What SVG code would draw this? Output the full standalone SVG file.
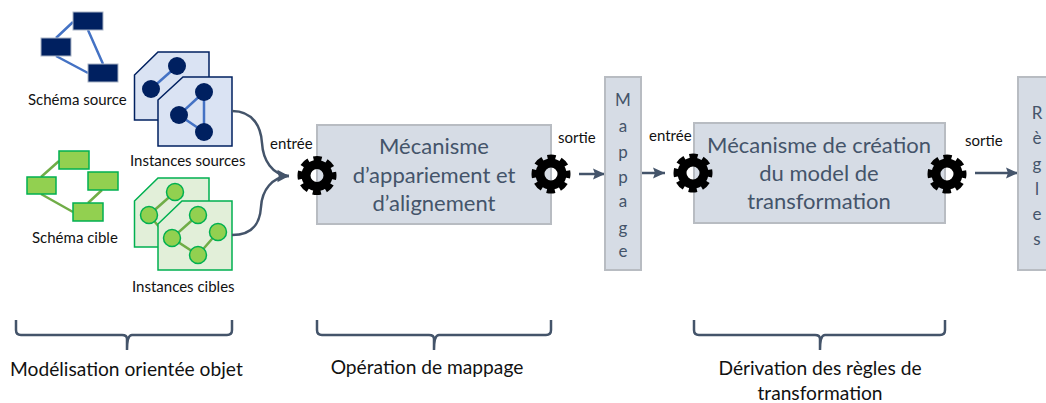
<svg xmlns="http://www.w3.org/2000/svg" width="1046" height="403" viewBox="0 0 1046 403">
<style>
text{font-family:"Lato","Open Sans","Liberation Sans",sans-serif;fill:#111}
.lb{font-size:15px}
.cap{font-size:19.2px}
.big{font-size:22px;fill:#44546a;text-anchor:middle}
.let{font-size:17px;fill:#44546a;text-anchor:middle}
.box{fill:#d6dce5;stroke:#b8bcc2;stroke-width:2}
.conn{fill:none;stroke:#44546a;stroke-width:2.5}
.brace{fill:none;stroke:#44546a;stroke-width:2.5}
.sl{stroke:#4472c4;stroke-width:2.5;fill:none}
.sr{fill:#002060;stroke:#a9b4c6;stroke-width:1}
.sd{fill:#dae3f3;stroke:#002060;stroke-width:1.5}
.sc{fill:#002060}
.gl{stroke:#70ad47;stroke-width:2.5;fill:none}
.gr{fill:#92d050;stroke:#00b050;stroke-width:1.5}
.gd{fill:#e2efd9;stroke:#00b050;stroke-width:1.5}
.gc{fill:#92d050;stroke:#00b050;stroke-width:1.5}
</style>
<defs>
<marker id="ah" markerUnits="userSpaceOnUse" markerWidth="14" markerHeight="14" refX="12" refY="7" orient="auto"><path d="M0 1.500L12 7L0 12.500L2 7Z" fill="#44546a"/></marker>
<g id="gear">
<circle r="11" fill="none" stroke="#000" stroke-width="9"/>
<circle r="16.500" fill="none" stroke="#000" stroke-width="6" stroke-dasharray="8 4.960" stroke-dashoffset="4"/>
</g>
</defs>

<g id="schema-source">
<path class="sl" d="M73 22L56 38M88 30L103 64M56 56L88 73"/>
<rect class="sr" x="73" y="12" width="30" height="18"/>
<rect class="sr" x="41" y="38" width="30" height="18"/>
<rect class="sr" x="88" y="64" width="30" height="18"/>
<text class="lb" x="28" y="105">Schéma source</text>
</g>

<g id="instances-sources">
<path class="sd" d="M134.500 75L158 52H209V120H134.500Z"/>
<path class="sl" d="M177 66L151 89"/>
<circle class="sc" cx="177" cy="66" r="9"/><circle class="sc" cx="151" cy="89" r="9"/>
<path class="sd" d="M158 100L183 77H232V146H158Z"/>
<path class="sl" d="M204 92L179 115L204 132Z"/>
<circle class="sc" cx="204" cy="92" r="9"/><circle class="sc" cx="179" cy="115" r="9"/><circle class="sc" cx="204" cy="132" r="9"/>
<text class="lb" x="130" y="166">Instances sources</text>
</g>

<g id="schema-cible">
<path class="gl" d="M59 161L41 177M41 194L73 212M102 190L88 203"/>
<rect class="gr" x="59" y="151" width="30" height="18"/>
<rect class="gr" x="27" y="177" width="29" height="17"/>
<rect class="gr" x="88" y="172" width="30" height="18"/>
<rect class="gr" x="73" y="203" width="30" height="18"/>
<text class="lb" x="32" y="243">Schéma cible</text>
</g>

<g id="instances-cibles">
<path class="gd" d="M134.500 201L158 178H209V247H134.500Z"/>
<path class="gl" d="M175 192L149 215L160 228"/>
<circle class="gc" cx="175" cy="192" r="8.500"/><circle class="gc" cx="149" cy="215" r="8.500"/>
<path class="gd" d="M158 224L182 201H232V270H158Z"/>
<path class="gl" d="M198 215L172 238L198 255L218 232"/>
<circle class="gc" cx="198" cy="215" r="8.500"/><circle class="gc" cx="172" cy="238" r="8.500"/><circle class="gc" cx="218" cy="232" r="8.500"/><circle class="gc" cx="198" cy="255" r="8.500"/>
<text class="lb" x="132" y="292">Instances cibles</text>
</g>

<g id="connectors">
<path class="conn" marker-end="url(#ah)" d="M232 111C254 111 261 128 262 143C263 160 272 175 289 176"/>
<path class="conn" marker-end="url(#ah)" d="M232 235C254 235 260 222 261 207C262 190 272 177 289 176"/>
<path class="conn" marker-end="url(#ah)" d="M579 174H605"/>
<path class="conn" marker-end="url(#ah)" d="M641 173H665"/>
<path class="conn" marker-end="url(#ah)" d="M975 173H1018"/>
</g>

<g id="appariement">
<rect class="box" x="317" y="125" width="234" height="99"/>
<text class="big" x="434" y="154">Mécanisme</text>
<text class="big" x="434" y="183">d’appariement et</text>
<text class="big" x="434" y="211">d’alignement</text>
</g>

<g id="mappage">
<rect class="box" x="605" y="77" width="36" height="193"/>
<text class="let" x="623" y="106">M</text><text class="let" x="623" y="132">a</text><text class="let" x="623" y="158">p</text><text class="let" x="623" y="183">p</text><text class="let" x="623" y="207">a</text><text class="let" x="623" y="234">g</text><text class="let" x="623" y="257">e</text>
</g>

<g id="creation">
<rect class="box" x="694" y="123" width="251" height="100"/>
<text class="big" x="819" y="153">Mécanisme de création</text>
<text class="big" x="819" y="181">du model de</text>
<text class="big" x="819" y="209">transformation</text>
</g>

<g id="regles">
<rect class="box" x="1018" y="77" width="40" height="193"/>
<text class="let" x="1037" y="119">R</text><text class="let" x="1037" y="144">è</text><text class="let" x="1037" y="170">g</text><text class="let" x="1037" y="195">l</text><text class="let" x="1037" y="220">e</text><text class="let" x="1037" y="245">s</text>
</g>

<use href="#gear" x="317" y="175.500"/>
<use href="#gear" x="551" y="174"/>
<use href="#gear" x="693" y="173"/>
<use href="#gear" x="947" y="174"/>

<text class="lb" x="270" y="149">entrée</text>
<text class="lb" x="558" y="143">sortie</text>
<text class="lb" x="649" y="141">entrée</text>
<text class="lb" x="965" y="146">sortie</text>

<g id="braces">
<path class="brace" d="M16 320V330Q16 335 21 335H122Q127 335 127 339V350Q127 335 132 335H227Q232 335 232 330V320"/>
<path class="brace" d="M317 320V330Q317 335 322 335H429Q434 335 434 339V350Q434 335 439 335H546Q551 335 551 330V320"/>
<path class="brace" d="M694 320V330Q694 335 699 335H815Q820 335 820 339V350Q820 335 825 335H940Q945 335 945 330V320"/>
</g>
<text class="cap" x="10" y="376">Modélisation orientée objet</text>
<text class="cap" x="427" y="374" text-anchor="middle">Opération de mappage</text>
<text class="cap" x="820" y="375" text-anchor="middle">Dérivation des règles de</text>
<text class="cap" x="820" y="400" text-anchor="middle">transformation</text>
</svg>
